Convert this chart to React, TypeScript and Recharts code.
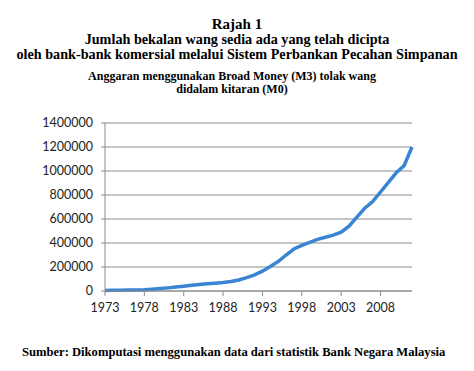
import { CartesianGrid, Line, LineChart, XAxis, YAxis } from "recharts"

const years = [
  1973, 1974, 1975, 1976, 1977, 1978, 1979, 1980, 1981, 1982,
  1983, 1984, 1985, 1986, 1987, 1988, 1989, 1990, 1991, 1992,
  1993, 1994, 1995, 1996, 1997, 1998, 1999, 2000, 2001, 2002,
  2003, 2004, 2005, 2006, 2007, 2008, 2009, 2010, 2011, 2012,
]

// M3 - M0 (RM juta), dibaca dari rajah
const money = [
  5000, 6000, 7000, 8000, 9000, 11000, 15000, 20000, 26000, 33000,
  40000, 47000, 54000, 60000, 65000, 70000, 80000, 92000, 112000, 135000,
  165000, 205000, 245000, 300000, 350000, 380000, 405000, 430000, 448000, 465000,
  490000, 540000, 615000, 690000, 745000, 825000, 905000, 985000, 1045000, 1200000,
]

const xTicks = [1973, 1978, 1983, 1988, 1993, 1998, 2003, 2008]
const yTicks = [0, 200000, 400000, 600000, 800000, 1000000, 1200000, 1400000]

const data = years.map((y, i) => ({ year: y, value: money[i] }))

const serif = "'Liberation Serif', 'Times New Roman', serif"
const sans = "Lato, 'Open Sans', sans-serif"

export default function App() {
  return (
    <div style={{ position: "absolute", left: 0, top: 0, width: 474, height: 371, background: "#fff" }}>
      <div style={{ position: "absolute", top: 16, left: 0, width: 474, textAlign: "center", fontFamily: serif, fontWeight: "bold", color: "#000" }}>
        <div style={{ fontSize: 15, lineHeight: "16px" }}>Rajah 1</div>
        <div style={{ fontSize: 14.2, lineHeight: "14.5px" }}>Jumlah bekalan wang sedia ada yang telah dicipta</div>
        <div style={{ fontSize: 14.2, lineHeight: "14.5px" }}>oleh bank-bank komersial melalui Sistem Perbankan Pecahan Simpanan</div>
      </div>
      <div style={{ position: "absolute", top: 70, left: 0, width: 464, textAlign: "center", fontFamily: serif, fontWeight: "bold", fontSize: 12, lineHeight: "13px", color: "#000" }}>
        <div>Anggaran menggunakan Broad Money (M3) tolak wang</div>
        <div>didalam kitaran (M0)</div>
      </div>

      <div style={{ position: "absolute", left: 0, top: 0 }}>
        <LineChart width={474} height={371} data={data} margin={{ top: 123, right: 62, bottom: 50, left: 0 }}>
          <CartesianGrid vertical={false} stroke="#8c8c8c" strokeWidth={1.2} />
          <XAxis
            dataKey="year"
            type="number"
            domain={[1973, 2012]}
            ticks={xTicks}
            height={30}
            stroke="#8c8c8c"
            tickSize={5}
            tickMargin={7}
            tick={{ fill: "#222", fontSize: 12.5, fontFamily: sans }}
          />
          <YAxis
            domain={[0, 1400000]}
            ticks={yTicks}
            width={105}
            stroke="#8c8c8c"
            tickSize={4}
            tickMargin={8}
            tickFormatter={(v) => String(v)}
            tick={{ fill: "#222", fontSize: 12.5, fontFamily: sans }}
          />
          <Line
            dataKey="value"
            type="linear"
            stroke="#3a84d4"
            strokeWidth={3.5}
            dot={false}
            isAnimationActive={false}
          />
        </LineChart>
      </div>

      <div style={{ position: "absolute", top: 345, left: 22, fontFamily: serif, fontWeight: "bold", fontSize: 12.6, lineHeight: "14px", color: "#000", whiteSpace: "nowrap" }}>
        Sumber: Dikomputasi menggunakan data dari statistik Bank Negara Malaysia
      </div>
    </div>
  )
}
